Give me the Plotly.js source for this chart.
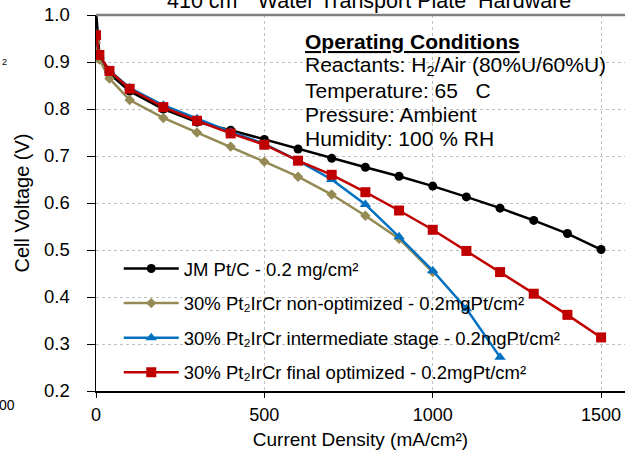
<!DOCTYPE html>
<html><head><meta charset="utf-8">
<script src="https://cdn.plot.ly/plotly-3.0.1.min.js"></script>
<style>html,body{margin:0;padding:0;background:#fff}</style>
</head><body>
<div id="chart" style="width:625px;height:452px"></div>
<script>
const names = [
  "JM Pt/C - 0.2 mg/cm²",
  "30% Pt₂IrCr non-optimized - 0.2mgPt/cm²",
  "30% Pt₂IrCr intermediate stage - 0.2mgPt/cm²",
  "30% Pt₂IrCr final optimized - 0.2mgPt/cm²"
];
const xJM = [0, 10, 40, 100, 200, 300, 400, 500, 600, 700, 800, 900, 1000, 1100, 1200, 1300, 1400, 1500];
const yJM = [1.01, 0.915, 0.875, 0.838, 0.800, 0.772, 0.755, 0.735, 0.715, 0.695, 0.676, 0.657, 0.636, 0.613, 0.589, 0.563, 0.535, 0.501];
const xNon = [0, 10, 40, 100, 200, 300, 400, 500, 600, 700, 800, 900, 1000];
const yNon = [0.941, 0.905, 0.865, 0.819, 0.781, 0.750, 0.720, 0.688, 0.656, 0.618, 0.573, 0.524, 0.453];
const xInt = [0, 10, 40, 100, 200, 300, 400, 500, 600, 700, 800, 900, 1000, 1100, 1200];
const yInt = [0.955, 0.913, 0.882, 0.845, 0.808, 0.779, 0.751, 0.726, 0.690, 0.650, 0.597, 0.528, 0.456, 0.375, 0.272];
const xFin = [0, 10, 40, 100, 200, 300, 400, 500, 600, 700, 800, 900, 1000, 1100, 1200, 1300, 1400, 1500];
const yFin = [0.957, 0.915, 0.881, 0.843, 0.804, 0.775, 0.748, 0.724, 0.690, 0.660, 0.623, 0.584, 0.543, 0.498, 0.453, 0.407, 0.362, 0.314];
const xTicks = [0, 500, 1000, 1500];
const yTicks = [0.2, 0.3, 0.4, 0.5, 0.6, 0.7, 0.8, 0.9, 1.0];
const condLines = [
  "<b><u>Operating Conditions</u></b>",
  "Reactants: H<sub>2</sub>/Air (80%U/60%U)",
  "Temperature: 65   C",
  "Pressure: Ambient",
  "Humidity: 100 % RH"
];

const F = "Liberation Sans, Arial, sans-serif";
function tr(x, y, name, color, symbol, size, group) {
  return {x: x, y: y, name: name, type: "scatter", mode: "lines+markers",
    line: {color: color, width: 2.5}, marker: {color: color, symbol: symbol, size: size},
    legendgroup: group, cliponaxis: true};
}
const data = [
  tr(xJM, yJM, names[0], "#000000", "circle", 9, "a"),
  tr(xNon, yNon, names[1], "#948A54", "diamond", 8, "b"),
  tr(xInt, yInt, names[2], "#0070C0", "triangle-up", 10, "c"),
  tr(xFin, yFin, names[3], "#C00000", "square", 10, "d")
];
const P = v => 1 - (v - 15) / 376; // pixel y -> paper y
const annotations = [
  {xref: "paper", yref: "paper", x: (369 - 96) / 529, y: 1, xanchor: "center", yanchor: "bottom", yshift: 0,
    showarrow: false, text: "410 cm<sup>2</sup>  Water Transport Plate  Hardware", font: {size: 21.5}},
  {xref: "paper", yref: "paper", x: (0 - 96) / 529, y: P(62), xanchor: "left", yanchor: "middle",
    showarrow: false, text: "2", font: {size: 9}},
  {xref: "paper", yref: "paper", x: (-3 - 96) / 529, y: P(405), xanchor: "left", yanchor: "middle",
    showarrow: false, text: "00", font: {size: 14}}
];
const condY = [42, 66, 90, 114, 138];
condLines.forEach((t, i) => annotations.push({xref: "paper", yref: "paper", x: (303 - 96) / 529, y: P(condY[i]),
  xanchor: "left", yanchor: "middle", showarrow: false, align: "left", font: {size: 21}, text: t}));

const layout = {
  width: 625, height: 452,
  margin: {l: 96, r: 0, t: 15, b: 61},
  paper_bgcolor: "#fff", plot_bgcolor: "#fff",
  font: {family: F, color: "#000", size: 17},
  showlegend: true,
  legend: {x: 0.043, y: 0.375, xanchor: "left", yanchor: "top", bgcolor: "rgba(0,0,0,0)",
    font: {family: F, size: 18.5, color: "#000"}, traceorder: "grouped", tracegroupgap: 7.5, itemwidth: 55},
  xaxis: {range: [0, 1571], tickvals: xTicks, ticktext: xTicks.map(String),
    showgrid: true, gridcolor: "#c0c0c0", griddash: "dot", gridwidth: 1,
    showline: true, linecolor: "#000", linewidth: 1.5, ticks: "outside", ticklen: 5, tickcolor: "#000",
    zeroline: false, tickfont: {size: 18}, ticklabelstandoff: 2,
    title: {text: "Current Density (mA/cm²)", font: {size: 19}, standoff: 8}},
  yaxis: {range: [0.2, 1.0], tickvals: yTicks, ticktext: yTicks.map(v => v.toFixed(1)),
    showgrid: true, gridcolor: "#c0c0c0", griddash: "dot", gridwidth: 1,
    showline: true, linecolor: "#000", linewidth: 1.5, ticks: "outside", ticklen: 8, tickcolor: "#000",
    zeroline: false, tickfont: {size: 18.5}, ticklabelstandoff: 13,
    title: {text: "Cell Voltage (V)", font: {size: 20}, standoff: 9}},
  shapes: [{type: "line", xref: "paper", yref: "paper", x0: 0, x1: 1, y0: 1, y1: 1,
    line: {color: "#808080", width: 2.5}}],
  annotations: annotations
};
Plotly.newPlot("chart", data, layout, {displayModeBar: false, staticPlot: true});
</script>
</body></html>
